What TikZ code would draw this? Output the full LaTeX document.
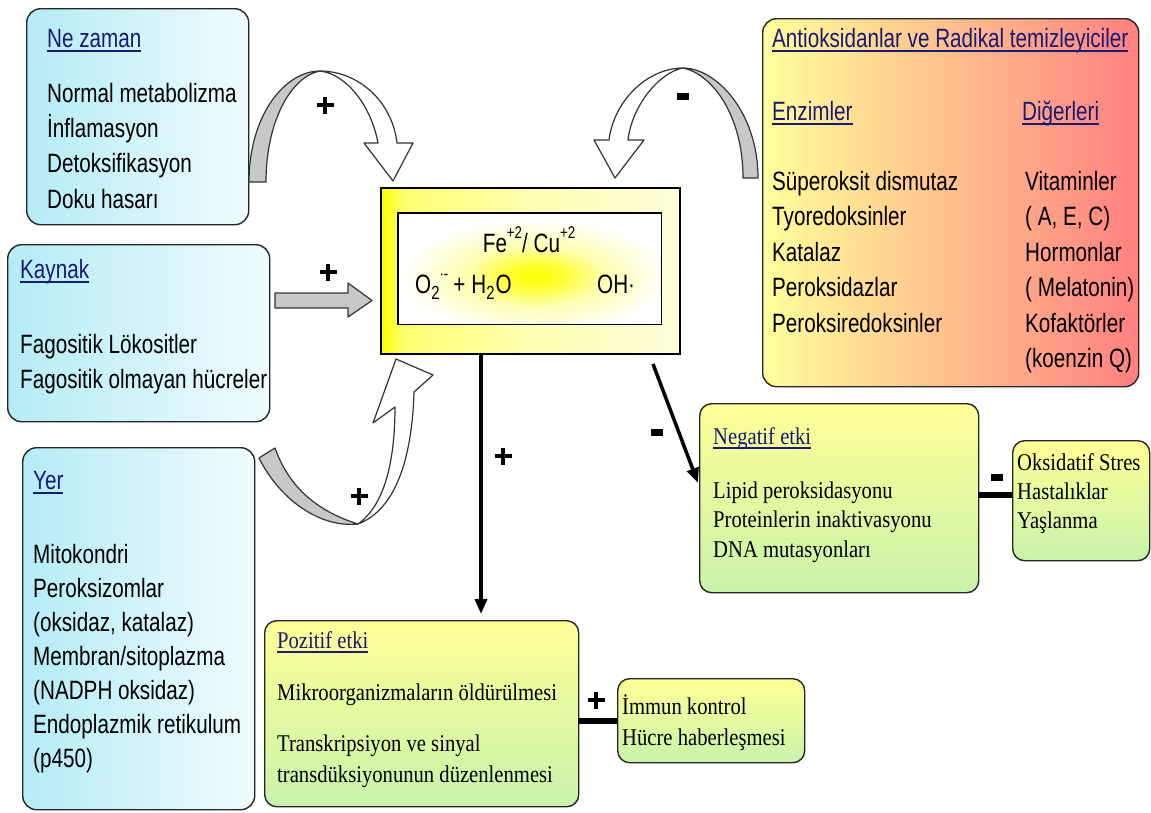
\documentclass[tikz,border=0pt]{standalone}
\usepackage{fontspec}
\setmainfont{Liberation Sans}
\newfontfamily\sansN{Liberation Sans}[FakeStretch=0.78]
\newfontfamily\serifT{Liberation Serif}[FakeStretch=0.86]
\usetikzlibrary{arrows.meta}
\definecolor{navyT}{RGB}{25,25,120}
\definecolor{cyanL}{RGB}{180,236,246}
\definecolor{cyanR}{RGB}{240,252,253}
\definecolor{ygTop}{RGB}{255,255,150}
\definecolor{ygBot}{RGB}{200,243,172}
\definecolor{axL}{RGB}{255,255,155}
\definecolor{axR}{RGB}{255,128,128}
\definecolor{bandGrey}{RGB}{200,200,200}
\newcommand\myul[1]{\setbox0\hbox{#1}\rlap{\rule[-4.5pt]{\wd0}{1.4pt}}\box0}
\newcommand\stk[2]{\vtop{\baselineskip=#1\lineskiplimit=-100pt\lineskip=0pt #2}}
\newcommand\mysub[1]{\raisebox{-0.25em}{\fontsize{19}{19}\selectfont #1}}
\newcommand\mysup[1]{\raisebox{0.5em}{\fontsize{17}{17}\selectfont #1}}
\newcommand\plussign{\rlap{\rule[6.25pt]{17pt}{4.5pt}}\hspace{6.25pt}\rule{4.5pt}{17pt}\hspace{6.25pt}}
\pgfdeclareradialshading{glow}{\pgfpoint{0bp}{0bp}}{color(0bp)=(yellow); color(4bp)=(yellow!80!white); color(10bp)=(yellow!30!white); color(19bp)=(white); color(50bp)=(white)}
\pgfdeclarehorizontalshading{cboxsh}{100bp}{color(0bp)=(yellow); color(25bp)=(yellow); color(29bp)=(yellow!55!white); color(50bp)=(yellow!30!white); color(75bp)=(yellow!14!white); color(100bp)=(yellow!14!white)}
\begin{document}
\begin{tikzpicture}[x=1pt,y=-1pt,
  box/.style={draw=black!85, line width=1.4pt, rounded corners=14pt, anchor=north west, inner sep=0pt},
  cyanbox/.style={box, left color=cyanL, right color=cyanR},
  ygbox/.style={box, rounded corners=12pt, top color=ygTop, bottom color=ygBot},
  axbox/.style={box, left color=axL, right color=axR},
  ttl/.style={anchor=base west, inner sep=0pt, text=navyT, font=\sansN\fontsize{26.5}{35}\selectfont},
  txt/.style={anchor=base west, inner sep=0pt, font=\sansN\fontsize{26.5}{35}\selectfont},
  sttl/.style={anchor=base west, inner sep=0pt, text=navyT, font=\serifT\fontsize{24}{28}\selectfont},
  stxt/.style={anchor=base west, inner sep=0pt, font=\serifT\fontsize{24}{28}\selectfont},
  plus/.style={inner sep=0pt},
  minus/.style={fill=black, inner sep=0pt, minimum width=12pt, minimum height=7pt},
  conn/.style={line width=3.5pt, -{Triangle[length=15pt,width=12pt]}},
  bar/.style={line width=6.5pt},
  band/.style={draw=black!80, line width=1.2pt, line join=round}
]
\useasboundingbox[fill=white] (0,0) rectangle (1151,812);

% ---------- boxes ----------
\node[cyanbox, minimum width=222pt, minimum height=216pt] (nz) at (26,8) {};
\node[cyanbox, minimum width=262pt, minimum height=177pt] (ky) at (7,244) {};
\node[cyanbox, minimum width=232pt, minimum height=362pt] (yr) at (22,447) {};
\node[axbox, minimum width=376pt, minimum height=368pt] (ax) at (762,18) {};
\node[ygbox, minimum width=279pt, minimum height=189pt] (ng) at (699,403) {};
\node[ygbox, minimum width=137pt, minimum height=120pt] (ok) at (1012,440) {};
\node[ygbox, minimum width=314pt, minimum height=186pt] (pz) at (264,620) {};
\node[ygbox, minimum width=187pt, minimum height=84pt] (im) at (617,678) {};

% ---------- central box ----------
\node[draw=black, line width=1.6pt, shading=cboxsh, anchor=north west, inner sep=0pt,
      minimum width=299pt, minimum height=166pt] (cb) at (380,187) {};
\node[fill=white, anchor=north west, inner sep=0pt,
      minimum width=263pt, minimum height=111pt] (ci) at (398,213) {};
\begin{scope}
  \clip (398,213) rectangle (661,324);
  \shade[shading=glow] (535,276) ellipse [x radius=175pt, y radius=75pt];
\end{scope}
\draw[line width=1.6pt] (ci.north west) rectangle (ci.south east);
\node[anchor=base, inner sep=0pt, font=\sansN\fontsize{26.5}{30}\selectfont] (fe) at (529,252)
  {Fe\mysup{+2}/ Cu\mysup{+2}};
\node[txt] (o2) at (415,293) {O\mysub{2}\mysup{·-}\hspace{5pt}+\hspace{6pt}H\mysub{2}\hspace{1pt}O};
\node[txt] (oh) at (597,293) {OH·};

% ---------- texts ----------
\node[ttl] (nzt) at (47,47) {\myul{Ne zaman}};
\node[txt] (nzb) at (47,102) {\stk{35.4pt}{\hbox{Normal metabolizma}\hbox{İnflamasyon}\hbox{Detoksifikasyon}\hbox{Doku hasarı}}};

\node[ttl] (kyt) at (20,278) {\myul{Kaynak}};
\node[txt] (kyb) at (20,353) {\stk{35pt}{\hbox{Fagositik Lökositler}\hbox{Fagositik olmayan hücreler}}};

\node[ttl] (yrt) at (33,489) {\myul{Yer}};
\node[txt] (yrb) at (33,563) {\stk{34pt}{\hbox{Mitokondri}\hbox{Peroksizomlar}\hbox{(oksidaz, katalaz)}\hbox{Membran/sitoplazma}\hbox{(NADPH oksidaz)}\hbox{Endoplazmik retikulum}\hbox{(p450)}}};

\node[ttl] (axt) at (772,47) {\myul{Antioksidanlar ve Radikal temizleyiciler}};
\node[ttl] (axe) at (772,120) {\myul{Enzimler}};
\node[ttl] (axd) at (1022,120) {\myul{Diğerleri}};
\node[txt] (axl) at (772,190) {\stk{35.5pt}{\hbox{Süperoksit dismutaz}\hbox{Tyoredoksinler}\hbox{Katalaz}\hbox{Peroksidazlar}\hbox{Peroksiredoksinler}}};
\node[txt] (axr) at (1025,190) {\stk{35.5pt}{\hbox{Vitaminler}\hbox{( A, E, C)}\hbox{Hormonlar}\hbox{( Melatonin)}\hbox{Kofaktörler}\hbox{(koenzin Q)}}};

\node[sttl] (ngt) at (713,444) {\myul{Negatif etki}};
\node[stxt] (ngb) at (713,498) {\stk{29.5pt}{\hbox{Lipid peroksidasyonu}\hbox{Proteinlerin inaktivasyonu}\hbox{DNA mutasyonları}}};

\node[stxt] (okb) at (1017,470) {\stk{29pt}{\hbox{Oksidatif Stres}\hbox{Hastalıklar}\hbox{Yaşlanma}}};

\node[sttl] (pzt) at (277,648) {\myul{Pozitif etki}};
\node[stxt] (pzb1) at (277,700) {Mikroorganizmaların öldürülmesi};
\node[stxt] (pzb2) at (277,751) {\stk{31pt}{\hbox{Transkripsiyon ve sinyal}\hbox{transdüksiyonunun düzenlenmesi}}};

\node[stxt] (imb) at (622,714) {\stk{31pt}{\hbox{İmmun kontrol}\hbox{Hücre haberleşmesi}}};

% ---------- connectors ----------
\coordinate (dA) at (481,353);
\coordinate (dB) at (481,614);
\draw[conn] (dA) -- (dB);
\coordinate (gA) at (653,364);
\coordinate (gB) at (698,483);
\draw[conn] (gA) -- (gB);
\coordinate (pzE) at (578,721);
\coordinate (imW) at (617,721);
\draw[bar] (pzE) -- (imW);
\coordinate (ngE) at (978,495);
\coordinate (okW) at (1012,495);
\draw[bar] (ngE) -- (okW);

% Kaynak block arrow
\draw[band, fill=bandGrey] (275,293) -- (348,293) -- (348,283) -- (372,300.5) -- (348,317) -- (348,308) -- (275,308) -- cycle;

% top-left curved arrow
\draw[band, fill=bandGrey] (249,182) .. controls (249,115) and (285,71) .. (320,71)
  .. controls (292,76) and (266,120) .. (266,182) -- cycle;
\draw[band, fill=white] (320,71) .. controls (357,71) and (392,100) .. (397,143)
  -- (413,143) -- (393,181) -- (364,143) -- (378,143)
  .. controls (371,105) and (346,74) .. (320,71) -- cycle;

% top-right curved arrow
\draw[band, fill=bandGrey] (758,178) .. controls (758,112) and (716,68) .. (683,68)
  .. controls (712,74) and (743,115) .. (743,178) -- cycle;
\draw[band, fill=white] (683,68) .. controls (648,68) and (614,100) .. (609,140)
  -- (594,140) -- (615,178) -- (644,140) -- (628,140)
  .. controls (632,105) and (660,72) .. (683,68) -- cycle;

% bottom curved arrow
\draw[band, fill=bandGrey] (259,458) .. controls (280,500) and (320,528) .. (358,524)
  .. controls (320,512) and (290,490) .. (275,448) -- cycle;
\draw[band, fill=white] (358,524) .. controls (395,510) and (412,460) .. (414,392)
  -- (433,375) -- (396,359) -- (373,423) -- (395,407)
  .. controls (395,460) and (385,505) .. (358,524) -- cycle;

% ---------- signs ----------
\node[plus] (p1) at (322,105) {\plussign};
\node[plus] (p2) at (325,272) {\plussign};
\node[plus] (p3) at (356,496) {\plussign};
\node[plus] (p4) at (500,456) {\plussign};
\node[plus] (p5) at (593,700) {\plussign};
\node[minus] (m1) at (683,96) {};
\node[minus] (m2) at (657,432) {};
\node[minus] (m3) at (997,477) {};
\end{tikzpicture}
\end{document}
